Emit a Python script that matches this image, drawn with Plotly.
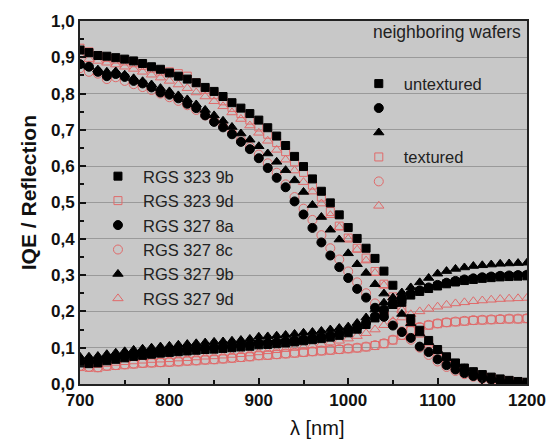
import plotly.graph_objects as go

wavelength = [700, 710, 720, 730, 740, 750, 760, 770, 780, 790, 800, 810, 820, 830, 840, 850,
              860, 870, 880, 890, 900, 910, 920, 930, 940, 950, 960, 970, 980, 990, 1000,
              1010, 1020, 1030, 1040, 1050, 1060, 1070, 1080, 1090, 1100, 1110, 1120, 1130,
              1140, 1150, 1160, 1170, 1180, 1190, 1200]

# IQE curves
iqe_323_9b = [.920, .913, .905, .903, .899, .895, .890, .883, .874, .867, .857, .848, .840, .830, .817, .806,
              .792, .775, .760, .745, .727, .706, .683, .657, .627, .599, .565, .531, .499, .466, .431,
              .401, .374, .346, .311, .272, .225, .180, .148, .120, .095, .075, .058, .044,
              .034, .026, .019, .014, .010, .007, .005]
iqe_323_9d = [.925, .915, .905, .900, .895, .890, .885, .878, .870, .862, .860, .855, .848, .830, .812, .797,
              .780, .762, .745, .727, .708, .688, .665, .640, .612, .583, .548, .515, .475, .435, .402,
              .374, .347, .310, .275, .240, .205, .170, .140, .112, .090, .070, .054, .041,
              .031, .023, .017, .012, .009, .006, .004]
iqe_327_8a = [.881, .874, .860, .848, .854, .846, .835, .828, .817, .803, .797, .787, .772, .760, .740, .722,
              .707, .688, .667, .647, .622, .595, .568, .542, .503, .467, .430, .390, .354, .322, .292,
              .262, .238, .210, .185, .161, .143, .127, .103, .088, .068, .052, .040, .030,
              .022, .016, .012, .008, .006, .004, .003]
iqe_327_8c = [.870, .860, .855, .840, .845, .835, .826, .818, .810, .800, .790, .780, .768, .755, .740, .725,
              .710, .692, .673, .653, .632, .608, .582, .550, .515, .483, .452, .410, .374, .343, .310,
              .280, .250, .222, .195, .168, .145, .122, .100, .080, .062, .047, .036, .027,
              .020, .014, .010, .007, .005, .003, .002]
iqe_327_9b = [.878, .874, .866, .860, .861, .852, .842, .834, .825, .815, .806, .795, .784, .770, .755, .740,
              .725, .708, .690, .673, .655, .635, .612, .589, .561, .529, .493, .460, .425, .398, .360,
              .330, .306, .275, .249, .220, .193, .167, .139, .115, .093, .073, .056, .043,
              .032, .024, .017, .012, .008, .006, .004]
iqe_327_9d = [.905, .895, .890, .885, .880, .874, .868, .860, .852, .844, .835, .825, .815, .803, .792, .779,
              .765, .748, .730, .712, .692, .670, .645, .618, .588, .556, .530, .497, .465, .432, .400,
              .370, .340, .306, .272, .238, .204, .170, .140, .113, .090, .070, .054, .041,
              .031, .023, .017, .012, .008, .006, .004]

# Reflection curves
ref_323_9b = [.058, .056, .058, .064, .068, .072, .076, .079, .082, .085, .087, .089, .091, .093, .095, .096,
              .098, .100, .102, .104, .108, .109, .111, .113, .116, .119, .122, .125, .129, .134, .141,
              .151, .164, .182, .201, .219, .233, .245, .255, .263, .270, .276, .281, .285,
              .288, .291, .293, .295, .296, .297, .298]
ref_323_9d = [.048, .046, .045, .049, .051, .053, .055, .057, .058, .059, .060, .061, .063, .064, .066, .067,
              .069, .071, .073, .075, .078, .079, .081, .083, .085, .087, .089, .091, .093, .095, .097,
              .099, .102, .106, .111, .121, .134, .147, .156, .162, .166, .169, .171, .173,
              .175, .176, .177, .178, .179, .179, .180]
ref_327_8a = [.062, .060, .062, .068, .072, .076, .080, .083, .086, .089, .091, .093, .095, .097, .099, .100,
              .102, .104, .106, .108, .112, .113, .115, .117, .120, .123, .126, .129, .133, .138, .145,
              .155, .168, .186, .205, .222, .236, .248, .258, .266, .273, .279, .284, .288,
              .291, .294, .296, .298, .299, .300, .301]
ref_327_8c = [.050, .047, .046, .050, .052, .054, .056, .058, .059, .060, .061, .062, .064, .065, .067, .068,
              .070, .072, .074, .076, .079, .080, .082, .084, .086, .088, .090, .092, .094, .096, .098,
              .100, .103, .107, .112, .122, .135, .148, .157, .163, .167, .170, .172, .174,
              .176, .177, .178, .179, .180, .180, .181]
ref_327_9b = [.075, .075, .077, .082, .086, .090, .094, .097, .100, .103, .105, .108, .110, .112, .114, .116,
              .117, .119, .121, .124, .130, .131, .133, .135, .138, .141, .143, .146, .150, .154, .158,
              .168, .183, .205, .224, .238, .252, .266, .280, .292, .304, .311, .317, .321,
              .325, .327, .329, .331, .332, .333, .334]
ref_327_9d = [.055, .052, .052, .055, .058, .060, .062, .064, .066, .067, .068, .070, .071, .073, .075, .076,
              .078, .080, .082, .084, .087, .090, .093, .096, .099, .102, .106, .110, .114, .119, .125,
              .132, .140, .150, .162, .173, .183, .192, .200, .207, .213, .218, .222, .225,
              .228, .230, .232, .234, .235, .236, .237]

sample_names = ["RGS 323 9b", "RGS 323 9d", "RGS 327 8a", "RGS 327 8c", "RGS 327 9b", "RGS 327 9d"]
iqe_data = [iqe_323_9b, iqe_323_9d, iqe_327_8a, iqe_327_8c, iqe_327_9b, iqe_327_9d]
ref_data = [ref_323_9b, ref_323_9d, ref_327_8a, ref_327_8c, ref_327_9b, ref_327_9d]
group_names = ["untextured", "textured", "", "", "", ""]

BLACK = "#000000"
RED = "#e06a6a"
styles = [
    dict(symbol="square", color=BLACK, size=8, rank=1),
    dict(symbol="square-open", color=RED, size=8, rank=4),
    dict(symbol="circle", color=BLACK, size=9, rank=2),
    dict(symbol="circle-open", color=RED, size=9, rank=5),
    dict(symbol="triangle-up", color=BLACK, size=9, rank=3),
    dict(symbol="triangle-up-open", color=RED, size=9, rank=6),
]

fig = go.Figure()
draw_order = [5, 3, 1, 4, 2, 0]  # red under black
for i in draw_order:
    st = styles[i]
    mk = dict(symbol=st["symbol"], color=st["color"], size=st["size"],
              line=dict(color=st["color"], width=1))
    fig.add_trace(go.Scatter(x=wavelength, y=iqe_data[i], mode="markers", name=sample_names[i],
                             marker=mk, legend="legend", legendrank=i + 1))
    fig.add_trace(go.Scatter(x=wavelength, y=ref_data[i], mode="markers",
                             name=group_names[i], marker=mk, legend="legend2",
                             legendrank=st["rank"]))

FONT = "Liberation Sans, Arial, sans-serif"
fig.update_layout(
    width=558, height=445,
    margin=dict(l=80, r=29, t=17, b=61),
    paper_bgcolor="white",
    plot_bgcolor="#c8c8c8",
    separators=",.",
    font=dict(family=FONT, color="#111"),
    xaxis=dict(range=[700, 1200], tickvals=[700, 800, 900, 1000, 1100, 1200],
               ticks="inside", ticklen=6, tickwidth=1.5, tickcolor="#111",
               minor=dict(ticks="inside", ticklen=4, dtick=50, tickcolor="#111", showgrid=False),
               showgrid=False, zeroline=False,
               showline=True, linecolor="#222", linewidth=2, mirror=True,
               tickfont=dict(size=17, family=FONT, weight="bold")),
    yaxis=dict(range=[0, 1.0], dtick=0.1, tickformat=".1f",
               ticks="inside", ticklen=6, tickwidth=1.5, tickcolor="#111",
               minor=dict(ticks="inside", ticklen=4, dtick=0.05, tickcolor="#111", showgrid=False),
               showgrid=True, gridcolor="#9a9a9a", gridwidth=1, zeroline=False,
               showline=True, linecolor="#222", linewidth=2, mirror=True,
               tickfont=dict(size=17, family=FONT, weight="bold")),
    legend=dict(x=0.029, y=0.62, xanchor="left", yanchor="top", bgcolor="rgba(0,0,0,0)",
                font=dict(size=16.5, family=FONT, color="#222"), itemsizing="trace",
                itemwidth=40, traceorder="normal"),
    legend2=dict(x=0.6125, y=0.875, xanchor="left", yanchor="top", bgcolor="rgba(0,0,0,0)",
                 font=dict(size=16.5, family=FONT, color="#222"), itemsizing="trace",
                 itemwidth=40, traceorder="normal"),
    annotations=[
        dict(text="neighboring wafers", x=0.99, y=0.97, xref="paper", yref="paper",
             xanchor="right", yanchor="middle", showarrow=False,
             font=dict(size=17.5, family=FONT, color="#222")),
        dict(text="<b>IQE / Reflection</b>", x=-0.116, y=0.526, xref="paper", yref="paper",
             xanchor="center", yanchor="middle", textangle=-90, showarrow=False,
             font=dict(size=21, family=FONT, color="#111")),
        dict(text="λ [nm]", x=0.530, y=-0.12, xref="paper", yref="paper",
             xanchor="center", yanchor="middle", showarrow=False,
             font=dict(size=20, family=FONT, color="#111")),
    ],
)

fig.write_html("out.html")
